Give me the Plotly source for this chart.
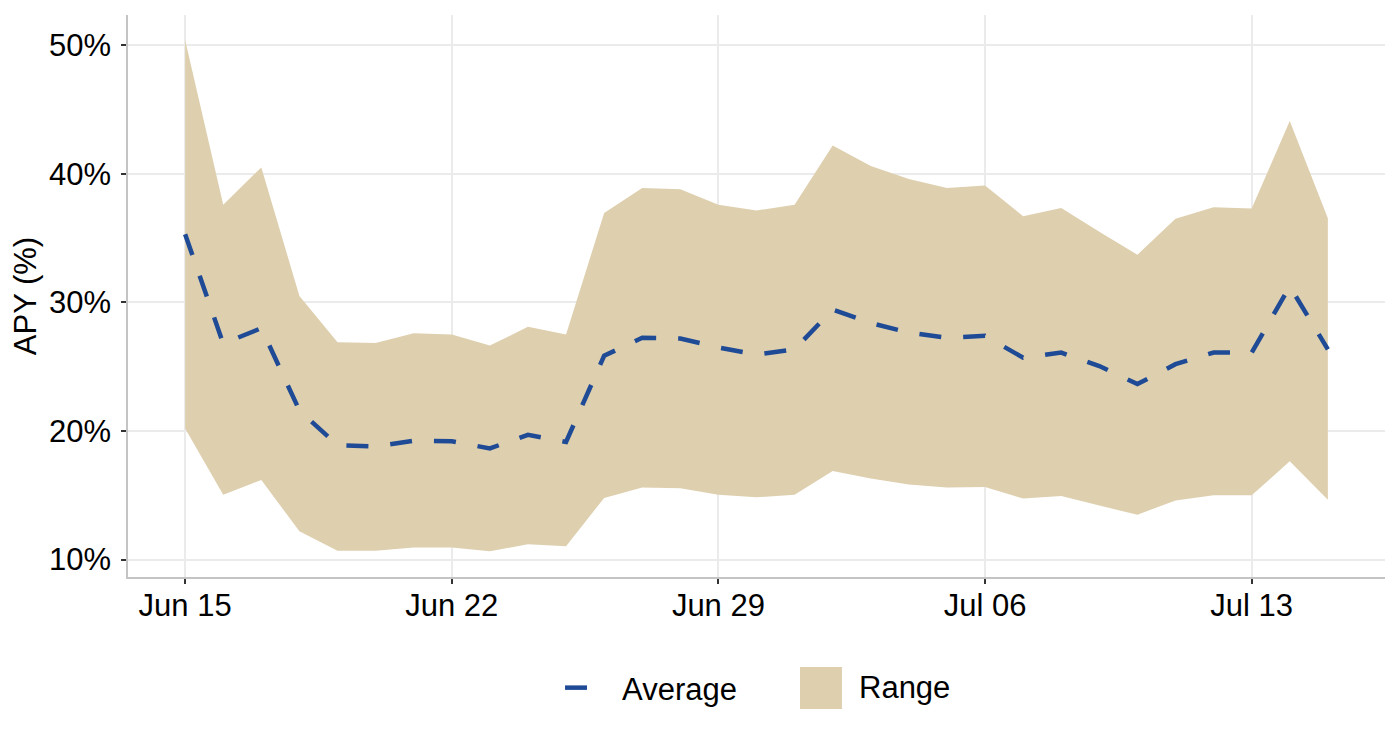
import plotly.graph_objects as go
import pandas as pd

dates = pd.date_range("2024-06-15", "2024-07-15", freq="D").strftime("%Y-%m-%d").tolist()

upper = [50.4, 37.6, 40.5, 30.5, 26.9, 26.85, 27.6, 27.5, 26.65, 28.1, 27.5,
         36.95, 38.9, 38.8, 37.6, 37.15, 37.6, 42.2, 40.6, 39.6, 38.9, 39.1,
         36.7, 37.35, 35.5, 33.7, 36.5, 37.4, 37.3, 44.1, 36.55]

lower = [20.2, 15.05, 16.2, 12.2, 10.7, 10.7, 10.95, 10.95, 10.65, 11.2, 11.05,
         14.8, 15.6, 15.55, 15.05, 14.85, 15.05, 16.9, 16.3, 15.85, 15.6, 15.65,
         14.75, 14.95, 14.2, 13.5, 14.6, 15.0, 15.0, 17.65, 14.65]

average = [35.3, 26.8, 28.0, 21.6, 18.9, 18.8, 19.25, 19.2, 18.65, 19.7, 19.15,
           25.85, 27.25, 27.2, 26.5, 25.95, 26.35, 29.45, 28.4, 27.65, 27.25, 27.4,
           25.7, 26.1, 25.05, 23.65, 25.2, 26.1, 26.1, 31.25, 26.35]

tick_dates = ["2024-06-15", "2024-06-22", "2024-06-29", "2024-07-06", "2024-07-13"]
tick_labels = ["Jun 15", "Jun 22", "Jun 29", "Jul 06", "Jul 13"]
y_ticks = [10, 20, 30, 40, 50]
y_labels = ["10%", "20%", "30%", "40%", "50%"]

fill_color = "#DECFAE"
line_color = "#1E4A96"
FONT = "Liberation Sans, Arial, sans-serif"
FS = 31

fig = go.Figure()
fig.add_trace(go.Scatter(x=dates, y=lower, mode="lines", line=dict(width=0, color=fill_color),
                         showlegend=False, hoverinfo="skip"))
fig.add_trace(go.Scatter(x=dates, y=upper, mode="lines", line=dict(width=0, color=fill_color),
                         fill="tonexty", fillcolor=fill_color, name="Range", showlegend=False))
fig.add_trace(go.Scatter(x=dates, y=average, mode="lines",
                         line=dict(color=line_color, width=4.5, dash="22px,22px"),
                         name="Average", showlegend=False))
# legend key for Average: a single dash like the reference
fig.add_trace(go.Scatter(x=[None], y=[None], mode="lines",
                         line=dict(color=line_color, width=4.5, dash="22px,80px"),
                         name="Average", showlegend=True))

axis_common = dict(
    showline=True, linecolor="#c4c4c4", linewidth=1.5,
    showgrid=True, gridcolor="#ebebeb", gridwidth=1.5,
    ticks="outside", ticklen=5, tickwidth=1.5, tickcolor="#333333",
    zeroline=False,
    tickfont=dict(family=FONT, size=FS, color="black"),
)

# Range legend key (plotly caps legend symbol size, so draw the square key in paper coords)
fig.add_shape(type="rect", xref="paper", yref="paper",
              x0=0.5346, x1=0.5680, y0=-0.2349, y1=-0.1601,
              fillcolor=fill_color, line=dict(width=0), layer="above")
fig.add_annotation(text="Range", xref="paper", yref="paper", x=0.580, y=-0.1975,
                   xanchor="left", yanchor="middle", showarrow=False,
                   font=dict(family=FONT, size=FS, color="black"))

fig.update_layout(
    width=1384, height=724,
    margin=dict(l=120, r=7, t=7, b=155),
    paper_bgcolor="white", plot_bgcolor="white",
    font=dict(family=FONT, size=FS, color="black"),
    xaxis=dict(type="date", range=["2024-06-13 12:00", "2024-07-16 12:00"],
               tickvals=tick_dates, ticktext=tick_labels, ticklabelstandoff=-5, **axis_common),
    yaxis=dict(range=[8.65, 52.35], tickvals=y_ticks, ticktext=y_labels, ticklabelstandoff=4,
               title=dict(text="APY (%)", font=dict(family=FONT, size=FS), standoff=8), **axis_common),
    legend=dict(orientation="h", x=0.3437, xanchor="left", y=-0.1975, yanchor="middle",
                font=dict(family=FONT, size=FS, color="black"), itemwidth=52),
    showlegend=True,
)

fig.write_html("out.html")
